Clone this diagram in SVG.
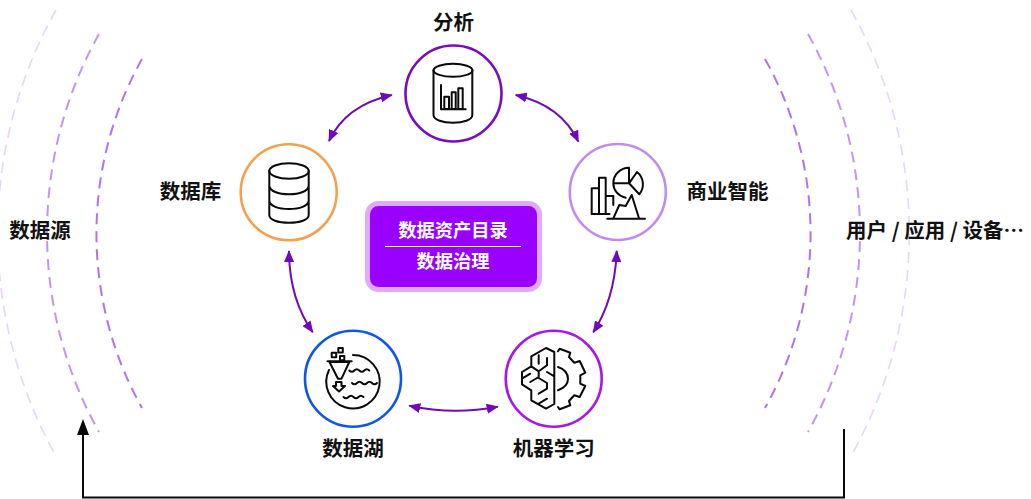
<svg xmlns="http://www.w3.org/2000/svg" width="1031" height="499" viewBox="0 0 1031 499">
<style>
text{font-family:"Noto Sans CJK SC","Noto Sans",sans-serif;font-weight:700;text-anchor:middle;fill:#111}
.lbl{font-size:20.5px}
.w{font-size:18.300px;fill:#fff}
.ring{fill:#fff;stroke-width:2.600}
.ic{fill:none;stroke:#0a0a0a;stroke-width:2;stroke-linejoin:round;stroke-linecap:round}
.arc{fill:none;stroke:#a25ce6;stroke-dasharray:11 7}
.link{fill:none;stroke:#7209b7;stroke-width:2;marker-start:url(#a);marker-end:url(#a)}
</style>
<defs>
<marker id="a" viewBox="0 0 12 10" refX="11" refY="5" markerWidth="12" markerHeight="10" markerUnits="userSpaceOnUse" orient="auto-start-reverse"><path d="M0 0L12 5L0 10Z" fill="#7209b7"/></marker>
</defs>
<g id="arcs">
<path class="arc" stroke-width="2" opacity=".85" d="M142 59A357 357 0 0 0 142 408"/>
<path class="arc" stroke-width="2" opacity=".65" d="M99 34A407 407 0 0 0 99 432"/>
<path class="arc" stroke-width="1.600" opacity=".25" d="M56 10A456 456 0 0 0 56 456"/>
<path class="arc" stroke-width="2" opacity=".85" d="M765 59A357 357 0 0 1 765 408"/>
<path class="arc" stroke-width="2" opacity=".65" d="M808 34A407 407 0 0 1 808 432"/>
<path class="arc" stroke-width="1.600" opacity=".25" d="M851 10A456 456 0 0 1 851 456"/>
</g>
<g id="connectors">
<path class="link" d="M391.700 95Q345.600 105.400 329 141"/>
<path class="link" d="M515.700 95Q561.400 105.400 578.300 141.700"/>
<path class="link" d="M616.700 251Q615 298.400 593.300 332.300"/>
<path class="link" d="M409.300 405.700Q453.300 415.200 497.700 406.700"/>
<path class="link" d="M289 251Q289.200 298.400 312.700 332.300"/>
<path fill="none" stroke="#0a0a0a" stroke-width="2" d="M844 429V497.500H83V430"/>
<path fill="#0a0a0a" d="M83 419L89 435H77Z"/>
</g>
<g id="node-analysis">
<circle class="ring" cx="453.500" cy="93.500" r="48" stroke="#7a0bc0"/>
<path class="ic" d="M433.500 70.300V115C433.500 120 443 122.700 453 122.700S472.300 120 472.300 115V70.300"/>
<ellipse class="ic" cx="453" cy="70.300" rx="19.500" ry="6.500"/>
<path class="ic" stroke-width="1.200" d="M441 85V109.300H465.700M444.300 109V96.700H449V109ZM451.700 109V92.300H455.700V109ZM458.300 109V88.300H462.700V109Z"/>
<text class="lbl" x="453.500" y="30">分析</text>
</g>
<g id="node-database">
<circle class="ring" cx="288.700" cy="192.300" r="48" stroke="#f5a04c"/>
<ellipse class="ic" cx="289" cy="171" rx="19.700" ry="7.800"/>
<path class="ic" stroke-width="2.200" d="M269.300 171V215C269.300 220 278 222.700 289 222.700S308.700 220 308.700 215V171M269.300 186C270 191 278 194.300 289 194.300S308 191 308.700 186M269.300 201C270 206 278 209 289 209S308 206 308.700 201"/>
<text class="lbl" x="190.500" y="199">数据库</text>
</g>
<g id="node-bi">
<circle class="ring" cx="617.800" cy="192" r="48" stroke="#c18cf2"/>
<path class="ic" d="M591.700 214V188.300H599V214ZM599 214V177.700H605.700V214ZM591.700 214H609.500M605.700 196H613.300V205"/>
<path class="ic" d="M625.700 197.700C618 196 613.300 190 613.300 183.300A15.700 15.700 0 0 1 629 167.700V183.300H613.300M629 183.300L637 172A15.700 15.700 0 0 1 639.300 194.300Z"/>
<path class="ic" d="M613.300 218.300L619.300 205L625.700 206L631.700 195L639 218.300M607.300 218.700H645"/>
<text class="lbl" x="727.500" y="199">商业智能</text>
</g>
<g id="node-lake">
<circle class="ring" cx="353" cy="378.700" r="48" stroke="#0f55e8"/>
<path class="ic" d="M353 355A26.700 26.700 0 1 1 329 370"/>
<path fill="#fff" stroke="none" d="M326 358H354L344 382H336Z"/>
<path class="ic" stroke-width="1.800" d="M327.500 361.300H351.700M329.500 362L338 378.700H341.500L349.300 362ZM336 382V386H333L339 391.500L345 386H341.500V382ZM331.700 352.700h4.500v4.500h-4.500ZM338.300 348h4.500v4.500h-4.500ZM340 356h4.300v4.300h-4.300Z"/>
<path class="ic" d="M349.300 370.500q2.600 2.500 5 0t5 0t5 0t5 0M352 383q2.600 2.500 5 0t5 0t5 0t5 0t5 0M343.500 397q2.600 2.500 5 0t5 0t5 0t5 0"/>
<text class="lbl" x="353" y="456">数据湖</text>
</g>
<g id="node-ml">
<circle class="ring" cx="553.700" cy="378.700" r="48" stroke="#a518e8"/>
<path class="ic" d="M554.300 352L546 348L531.300 356.300V366.300L522 372V384.300L531.300 390.300V400.300L546 408.700L554.300 404ZM538.700 355.300V363.700M547 358V365.300L538.700 371.300L531.300 366.300M538.700 371.300V378L547 383V388.700L538.700 393.700M522 378.700L530.300 373.700M530.300 382L538.700 377M547 372L554.300 376.300M538.700 403.700L547 398.700"/>
<path class="ic" d="M558 351.300L559.700 348.700L570.300 352.700L569 357L574.300 362.700L579.700 361L585.300 372.700L580.300 375.300V383.700L585.300 386L579.700 397L574.300 395.300L569 401L570.300 405.300L559.700 409.300L558 407M558 367C564 369 568 373 568 379S564 388 558 390.300"/>
<text class="lbl" x="553.700" y="456">机器学习</text>
</g>
<g id="node-catalog">
<rect x="367.500" y="203.500" width="172" height="86" rx="11" fill="#9900ff" stroke="#e0aaff" stroke-width="5"/>
<line x1="385" y1="246.500" x2="521" y2="246.500" stroke="#fff"/>
<text class="w" x="453" y="237">数据资产目录</text>
<text class="w" x="453" y="268">数据治理</text>
</g>
<g id="node-sources"><text class="lbl" x="40" y="238">数据源</text></g>
<g id="node-users"><text class="lbl" x="935" y="238">用户 / 应用 / 设备…</text></g>
</svg>
